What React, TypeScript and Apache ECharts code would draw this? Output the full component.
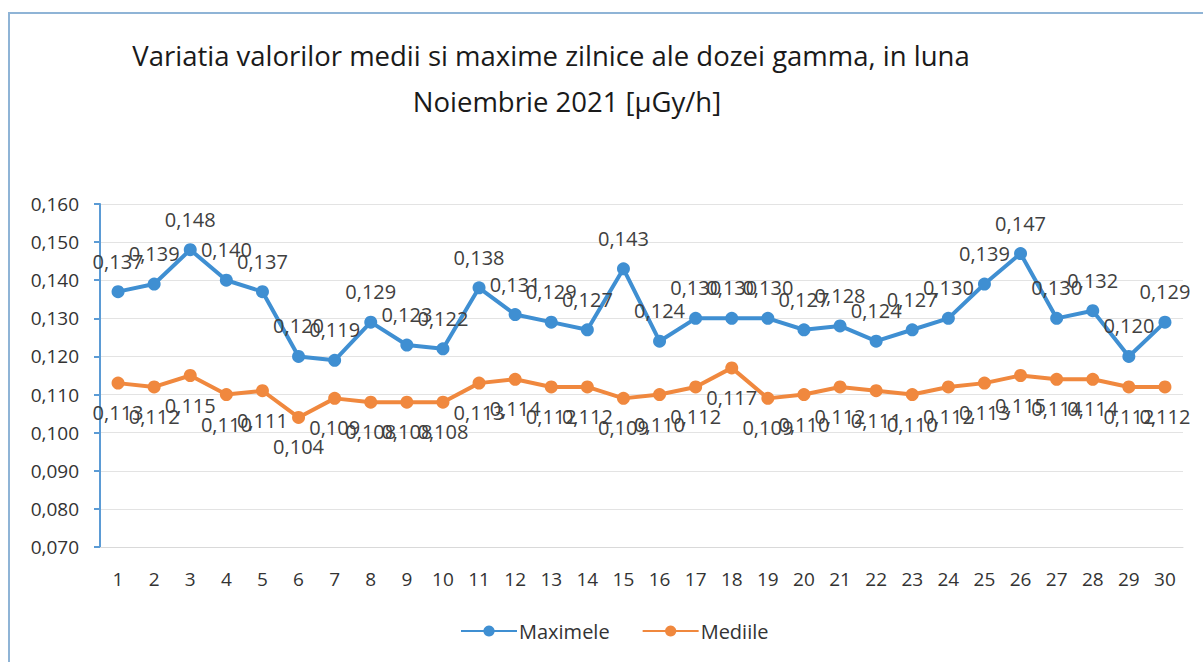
import React, { useEffect, useRef } from "react";
import * as echarts from "echarts";

const days = ["1","2","3","4","5","6","7","8","9","10","11","12","13","14","15","16","17","18","19","20","21","22","23","24","25","26","27","28","29","30"];
const maximele = [0.137,0.139,0.148,0.140,0.137,0.120,0.119,0.129,0.123,0.122,0.138,0.131,0.129,0.127,0.143,0.124,0.130,0.130,0.130,0.127,0.128,0.124,0.127,0.130,0.139,0.147,0.130,0.132,0.120,0.129];
const mediile = [0.113,0.112,0.115,0.110,0.111,0.104,0.109,0.108,0.108,0.108,0.113,0.114,0.112,0.112,0.109,0.110,0.112,0.117,0.109,0.110,0.112,0.111,0.110,0.112,0.113,0.115,0.114,0.114,0.112,0.112];
const titleLines = ["Variatia valorilor medii si maxime zilnice ale dozei gamma, in luna", "Noiembrie 2021 [µGy/h]"];

const fmt = (v: number) => v.toFixed(3).replace(".", ",");
const FONT = "'Open Sans', 'Noto Sans', sans-serif";

export default function App() {
  const ref = useRef<HTMLDivElement>(null);
  useEffect(() => {
    document.body.style.margin = "0";
    const chart = echarts.init(ref.current!, undefined, { renderer: "svg" });
    chart.setOption({
      animation: false,
      backgroundColor: "#ffffff",
      graphic: [
        {
          type: "rect",
          shape: { x: 9, y: 13, width: 1300, height: 700 },
          style: { fill: "none", stroke: "#8fb4d6", lineWidth: 2 },
          silent: true,
        },
      ],
      title: [
        {
          text: titleLines[0],
          left: 546,
          top: 36,
          textAlign: "center",
          textStyle: { fontFamily: FONT, fontSize: 27.5, fontWeight: "normal", color: "#1a1a1a" },
        },
        {
          text: titleLines[1],
          left: 562,
          top: 82,
          textAlign: "center",
          textStyle: { fontFamily: FONT, fontSize: 27.5, fontWeight: "normal", color: "#1a1a1a" },
        },
      ],
      legend: {
        bottom: 16,
        left: 455,
        itemWidth: 56,
        itemHeight: 14,
        itemGap: 32,
        textStyle: { fontFamily: FONT, fontSize: 20, color: "#333", padding: [0, 0, 0, -3] },
        data: ["Maximele", "Mediile"],
      },
      grid: { left: 100, right: 20, top: 204, bottom: 115 },
      xAxis: {
        type: "category",
        data: days,
        boundaryGap: true,
        axisLine: { show: true, lineStyle: { color: "#d9d9d9" } },
        axisTick: { show: false },
        axisLabel: { fontFamily: FONT, fontSize: 19, color: "#333", margin: 22 },
      },
      yAxis: {
        type: "value",
        min: 0.07,
        max: 0.16,
        interval: 0.01,
        axisLine: { show: true, lineStyle: { color: "#5b9bd5", width: 2 } },
        axisTick: { show: true, length: 6, lineStyle: { color: "#5b9bd5", width: 2 } },
        splitLine: { lineStyle: { color: "#e3e3e3" } },
        axisLabel: {
          fontFamily: FONT,
          fontSize: 19,
          color: "#333",
          margin: 21,
          formatter: (v: number) => fmt(v),
        },
      },
      series: [
        {
          name: "Maximele",
          type: "line",
          data: maximele,
          color: "#3f8fd2",
          lineStyle: { width: 4, color: "#3f8fd2" },
          symbol: "circle",
          symbolSize: 13,
          itemStyle: { color: "#3f8fd2" },
          label: {
            show: true,
            position: "top",
            distance: 14,
            fontFamily: FONT,
            fontSize: 20,
            color: "#404040",
            formatter: (p: any) => fmt(p.value),
          },
        },
        {
          name: "Mediile",
          type: "line",
          data: mediile,
          color: "#f0883e",
          lineStyle: { width: 4, color: "#f0883e" },
          symbol: "circle",
          symbolSize: 13,
          itemStyle: { color: "#f0883e" },
          label: {
            show: true,
            position: "bottom",
            distance: 13,
            fontFamily: FONT,
            fontSize: 20,
            color: "#404040",
            formatter: (p: any) => fmt(p.value),
          },
        },
      ],
    });
    return () => chart.dispose();
  }, []);
  return <div ref={ref} style={{ width: 1203, height: 662 }} />;
}
